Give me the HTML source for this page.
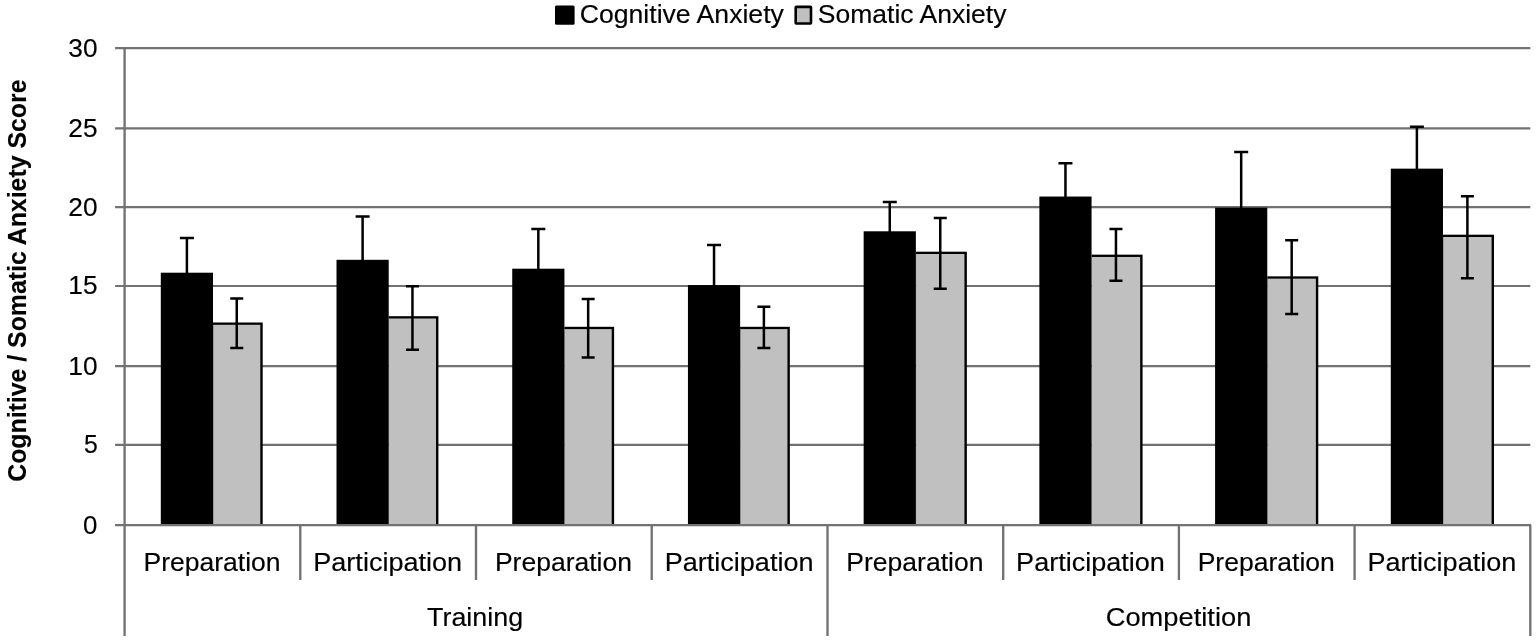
<!DOCTYPE html>
<html lang="en"><head><meta charset="utf-8"><title>Cognitive / Somatic Anxiety Score</title>
<style>
html,body{margin:0;padding:0;background:#fff;}
body{width:1536px;height:640px;overflow:hidden;}
svg text{font-family:"Liberation Sans",sans-serif;fill:#000;stroke:#000;stroke-width:0.15px;}
</style></head><body>
<svg width="1536" height="640" viewBox="0 0 1536 640" style="display:block">
<g>
<rect width="1536" height="640" fill="#fff"/>
<line x1="115.1" y1="444.90" x2="1530.3" y2="444.90" stroke="#727272" stroke-width="2.2"/>
<line x1="115.1" y1="366.10" x2="1530.3" y2="366.10" stroke="#727272" stroke-width="2.2"/>
<line x1="115.1" y1="286.00" x2="1530.3" y2="286.00" stroke="#727272" stroke-width="2.2"/>
<line x1="115.1" y1="207.20" x2="1530.3" y2="207.20" stroke="#727272" stroke-width="2.2"/>
<line x1="115.1" y1="128.40" x2="1530.3" y2="128.40" stroke="#727272" stroke-width="2.2"/>
<line x1="115.1" y1="48.20" x2="1530.3" y2="48.20" stroke="#727272" stroke-width="2.2"/>
<rect x="160.80" y="272.70" width="52.20" height="252.45" fill="#000"/>
<rect x="213.00" y="322.50" width="49.70" height="202.65" fill="#000"/>
<rect x="213.20" y="324.80" width="47.10" height="200.35" fill="#c0c0c0"/>
<path d="M186.90 273.70V238.00M179.90 238.00h14" stroke="#000" stroke-width="2.5" fill="none"/>
<path d="M236.75 348.10V298.40M230.25 298.40h13M230.25 348.10h13" stroke="#000" stroke-width="2.5" fill="none"/>
<rect x="336.51" y="259.80" width="52.20" height="265.35" fill="#000"/>
<rect x="388.71" y="316.20" width="49.70" height="208.95" fill="#000"/>
<rect x="388.91" y="318.50" width="47.10" height="206.65" fill="#c0c0c0"/>
<path d="M362.61 260.80V216.40M355.61 216.40h14" stroke="#000" stroke-width="2.5" fill="none"/>
<path d="M412.46 349.70V286.20M405.96 286.20h13M405.96 349.70h13" stroke="#000" stroke-width="2.5" fill="none"/>
<rect x="512.23" y="268.70" width="52.20" height="256.45" fill="#000"/>
<rect x="564.42" y="326.80" width="49.70" height="198.35" fill="#000"/>
<rect x="564.62" y="329.10" width="47.10" height="196.05" fill="#c0c0c0"/>
<path d="M538.33 269.70V229.10M531.33 229.10h14" stroke="#000" stroke-width="2.5" fill="none"/>
<path d="M588.17 357.60V298.90M581.67 298.90h13M581.67 357.60h13" stroke="#000" stroke-width="2.5" fill="none"/>
<rect x="687.94" y="285.10" width="52.20" height="240.05" fill="#000"/>
<rect x="740.14" y="326.80" width="49.70" height="198.35" fill="#000"/>
<rect x="740.34" y="329.10" width="47.10" height="196.05" fill="#c0c0c0"/>
<path d="M714.04 286.10V244.90M707.04 244.90h14" stroke="#000" stroke-width="2.5" fill="none"/>
<path d="M763.89 348.10V306.80M757.39 306.80h13M757.39 348.10h13" stroke="#000" stroke-width="2.5" fill="none"/>
<rect x="863.65" y="231.30" width="52.20" height="293.85" fill="#000"/>
<rect x="915.85" y="251.70" width="51.00" height="273.45" fill="#000"/>
<rect x="916.05" y="254.00" width="48.40" height="271.15" fill="#c0c0c0"/>
<path d="M889.75 232.30V202.10M882.75 202.10h14" stroke="#000" stroke-width="2.5" fill="none"/>
<path d="M940.25 288.80V218.00M933.75 218.00h13M933.75 288.80h13" stroke="#000" stroke-width="2.5" fill="none"/>
<rect x="1039.36" y="196.55" width="52.20" height="328.60" fill="#000"/>
<rect x="1091.56" y="254.65" width="51.00" height="270.50" fill="#000"/>
<rect x="1091.76" y="256.95" width="48.40" height="268.20" fill="#c0c0c0"/>
<path d="M1065.46 197.55V163.15M1058.46 163.15h14" stroke="#000" stroke-width="2.5" fill="none"/>
<path d="M1115.96 280.65V229.10M1109.46 229.10h13M1109.46 280.65h13" stroke="#000" stroke-width="2.5" fill="none"/>
<rect x="1215.08" y="207.65" width="52.20" height="317.50" fill="#000"/>
<rect x="1267.28" y="276.35" width="51.00" height="248.80" fill="#000"/>
<rect x="1267.48" y="278.65" width="48.40" height="246.50" fill="#c0c0c0"/>
<path d="M1241.18 208.65V152.05M1234.18 152.05h14" stroke="#000" stroke-width="2.5" fill="none"/>
<path d="M1291.68 313.95V240.20M1285.18 240.20h13M1285.18 313.95h13" stroke="#000" stroke-width="2.5" fill="none"/>
<rect x="1390.79" y="168.65" width="52.20" height="356.50" fill="#000"/>
<rect x="1442.99" y="234.70" width="51.00" height="290.45" fill="#000"/>
<rect x="1443.19" y="237.00" width="48.40" height="288.15" fill="#c0c0c0"/>
<path d="M1416.89 169.65V126.75M1409.89 126.75h14" stroke="#000" stroke-width="2.5" fill="none"/>
<path d="M1467.39 278.20V196.30M1460.89 196.30h13M1460.89 278.20h13" stroke="#000" stroke-width="2.5" fill="none"/>
<path d="M115.1 525.15H1530.3V636" stroke="#727272" stroke-width="2.35" fill="none" stroke-linejoin="round"/>
<line x1="124.6" y1="48.20" x2="124.6" y2="636" stroke="#727272" stroke-width="2.35"/>
<line x1="300.3" y1="525.15" x2="300.3" y2="580" stroke="#727272" stroke-width="2.35"/>
<line x1="476.0" y1="525.15" x2="476.0" y2="580" stroke="#727272" stroke-width="2.35"/>
<line x1="651.7" y1="525.15" x2="651.7" y2="580" stroke="#727272" stroke-width="2.35"/>
<line x1="827.5" y1="525.15" x2="827.5" y2="636" stroke="#727272" stroke-width="2.35"/>
<line x1="1003.2" y1="525.15" x2="1003.2" y2="580" stroke="#727272" stroke-width="2.35"/>
<line x1="1178.9" y1="525.15" x2="1178.9" y2="580" stroke="#727272" stroke-width="2.35"/>
<line x1="1354.6" y1="525.15" x2="1354.6" y2="580" stroke="#727272" stroke-width="2.35"/>
<text x="68.3" y="56.6" font-size="26" textLength="29.2" lengthAdjust="spacingAndGlyphs" stroke="none">30</text>
<text x="68.3" y="136.8" font-size="26" textLength="29.2" lengthAdjust="spacingAndGlyphs" stroke="none">25</text>
<text x="68.3" y="215.6" font-size="26" textLength="29.2" lengthAdjust="spacingAndGlyphs" stroke="none">20</text>
<text x="68.3" y="294.4" font-size="26" textLength="29.2" lengthAdjust="spacingAndGlyphs" stroke="none">15</text>
<text x="68.3" y="374.5" font-size="26" textLength="29.2" lengthAdjust="spacingAndGlyphs" stroke="none">10</text>
<text x="83.9" y="453.3" font-size="26" textLength="13.8" lengthAdjust="spacingAndGlyphs" stroke="none">5</text>
<text x="83.1" y="533.55" font-size="26" textLength="14.4" lengthAdjust="spacingAndGlyphs" stroke="none">0</text>
<text x="143.5" y="571" font-size="25.6" textLength="137.1" lengthAdjust="spacingAndGlyphs">Preparation</text>
<text x="313.3" y="571" font-size="25.6" textLength="148.8" lengthAdjust="spacingAndGlyphs">Participation</text>
<text x="494.9" y="571" font-size="25.6" textLength="137.1" lengthAdjust="spacingAndGlyphs">Preparation</text>
<text x="664.7" y="571" font-size="25.6" textLength="148.8" lengthAdjust="spacingAndGlyphs">Participation</text>
<text x="846.3" y="571" font-size="25.6" textLength="137.1" lengthAdjust="spacingAndGlyphs">Preparation</text>
<text x="1016.1" y="571" font-size="25.6" textLength="148.8" lengthAdjust="spacingAndGlyphs">Participation</text>
<text x="1197.7" y="571" font-size="25.6" textLength="137.1" lengthAdjust="spacingAndGlyphs">Preparation</text>
<text x="1367.5" y="571" font-size="25.6" textLength="148.8" lengthAdjust="spacingAndGlyphs">Participation</text>
<text x="427.0" y="625.8" font-size="25.6" textLength="96.2" lengthAdjust="spacingAndGlyphs">Training</text>
<text x="1105.7" y="625.8" font-size="25.6" textLength="145.7" lengthAdjust="spacingAndGlyphs">Competition</text>
<text x="579.7" y="23" font-size="25.6" textLength="204.2" lengthAdjust="spacingAndGlyphs">Cognitive Anxiety</text>
<text x="817.8" y="23" font-size="25.6" textLength="188.6" lengthAdjust="spacingAndGlyphs">Somatic Anxiety</text>
<text x="26.2" y="481.8" font-size="25.6" textLength="402.3" lengthAdjust="spacingAndGlyphs" font-weight="bold" transform="rotate(-90 26.2 481.8)">Cognitive / Somatic Anxiety Score</text>
<rect x="555" y="5.6" width="19.6" height="19.2" rx="1.5" fill="#000"/>
<rect x="795.7" y="6.9" width="15.3" height="16.6" rx="0.5" fill="#c0c0c0" stroke="#000" stroke-width="2.6"/>
</g></svg>
</body></html>
